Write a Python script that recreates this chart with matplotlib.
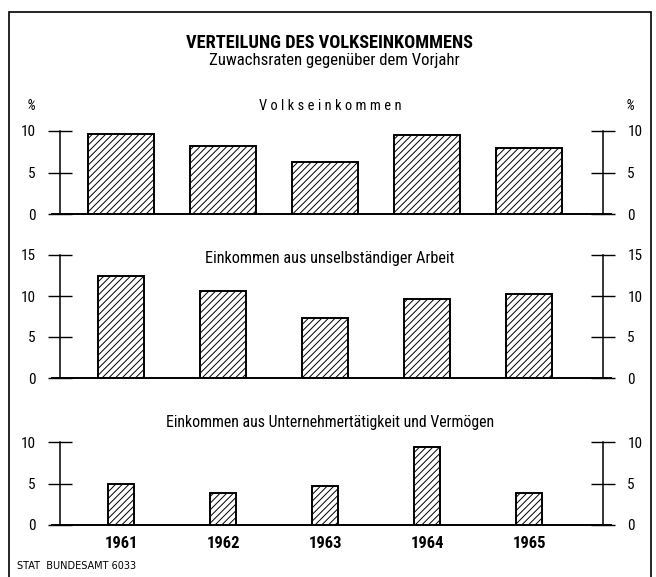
import matplotlib
matplotlib.use("Agg")
import matplotlib.pyplot as plt
from matplotlib.patches import Rectangle
import numpy as np

# Daten
jahre = ["1961", "1962", "1963", "1964", "1965"]
volkseinkommen = [9.6, 8.2, 6.3, 9.5, 8.0]
unselbstaendig = [12.4, 10.6, 7.3, 9.6, 10.2]
unternehmer = [4.9, 3.9, 4.7, 9.4, 3.8]

titel = "VERTEILUNG DES VOLKSEINKOMMENS"
untertitel = "Zuwachsraten gegenüber dem Vorjahr"
titel_1 = "V o l k s e i n k o m m e n"
titel_2 = "Einkommen aus unselbständiger Arbeit"
titel_3 = "Einkommen aus Unternehmertätigkeit und Vermögen"
quelle = "STAT  BUNDESAMT 6033"

plt.rcParams["font.family"] = ["Roboto Condensed", "DejaVu Sans"]
plt.rcParams["hatch.linewidth"] = 0.7

W, H = 656, 577
fig = plt.figure(figsize=(W / 100, H / 100), dpi=100)
renderer = fig.canvas.get_renderer()


def fx(px):
    return px / W


def fy(py):
    return 1 - py / H


def text_breite(x, y, s, breite, **kw):
    # Schriftgröße so anpassen, dass der Text die gewünschte Breite hat
    t = fig.text(fx(x), fy(y), s, ha="center", va="center", fontsize=10, **kw)
    w = t.get_window_extent(renderer).width
    t.set_fontsize(10 * breite / w)
    return t


# Rahmen
fig.add_artist(Rectangle((fx(9), fy(600)), fx(642), fy(12) - fy(600),
                         transform=fig.transFigure, fill=False,
                         edgecolor="black", linewidth=1.2, clip_on=False))

text_breite(329, 43, titel, 287, fontweight="bold")
text_breite(334, 61, untertitel, 250)
fig.text(fx(31), fy(106), "%", ha="center", va="center", fontsize=10.5, style="italic")
fig.text(fx(630), fy(106), "%", ha="center", va="center", fontsize=10.5, style="italic")
fig.text(fx(17), fy(566), quelle, ha="left", va="center", fontsize=7,
         family="DejaVu Sans")

panels = [
    (volkseinkommen, 214, 131, 10, [0, 5, 10], 0.65, titel_1, 106, 140),
    (unselbstaendig, 378, 255, 15, [0, 5, 10, 15], 0.45, titel_2, 258, 248),
    (unternehmer, 525, 442, 10, [0, 5, 10], 0.25, titel_3, 422, 328),
]

x_links, x_rechts = 52, 611
achse_l, achse_r = 60, 603
pos = np.arange(len(jahre))
# Balkenmitten: 1961 bei 121 px, 1965 bei 529 px
schritt = (529 - 121) / 4
xmin = -(121 - x_links) / schritt
xmax = (x_rechts - 121) / schritt

for i, (werte, y0, ytop, ymax, ticks, breite, ptitel, ytitel, tbreite) in enumerate(panels):
    ax = fig.add_axes([fx(x_links), fy(y0), fx(x_rechts - x_links), fy(ytop) - fy(y0)])
    ax.set_facecolor("none")
    ax.bar(pos, werte, width=breite, color="white", edgecolor="black",
           linewidth=1.4, hatch="/////", zorder=2)
    ax.set_xlim(xmin, xmax)
    ax.set_ylim(0, ymax)

    ax.spines["top"].set_visible(False)
    ax.spines["bottom"].set_linewidth(1.4)
    ax.spines["left"].set_position(("axes", (achse_l - x_links) / (x_rechts - x_links)))
    ax.spines["right"].set_position(("axes", (achse_r - x_links) / (x_rechts - x_links)))
    for s in ("left", "right"):
        ax.spines[s].set_bounds(0, ymax)
        ax.spines[s].set_linewidth(1.1)

    ax.set_yticks(ticks)
    ax.yaxis.set_ticks_position("both")
    ax.tick_params(axis="y", direction="inout", length=17, width=1.0,
                   labelsize=11, pad=9, labelleft=True, labelright=True)

    if i == 2:
        ax.set_xticks(pos)
        ax.set_xticklabels(jahre, fontsize=12, fontweight="bold")
        ax.tick_params(axis="x", length=0, pad=8)
    else:
        ax.set_xticks([])

    text_breite(330, ytitel, ptitel, tbreite)

fig.savefig("out.png", dpi=100)
